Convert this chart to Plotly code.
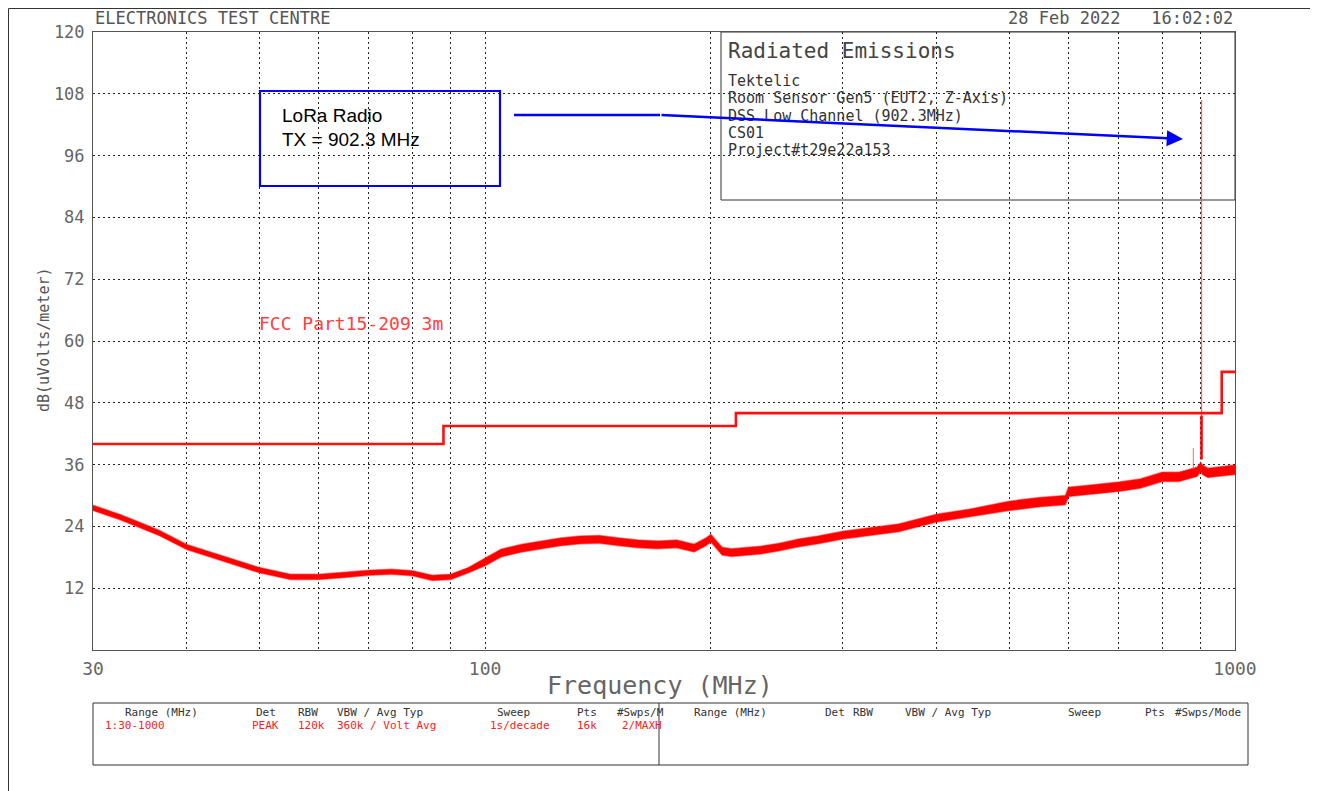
import numpy as np
import plotly.graph_objects as go

freq_mhz = [30, 32.6, 34.6, 36.8, 40, 44.3, 50, 55, 60, 65, 70, 75, 80, 85, 90, 95,
            100, 105, 112, 119, 126, 134, 142, 151, 160, 170, 180, 190, 197, 200, 203,
            207, 213, 233, 247, 262, 278, 300, 322, 356, 400, 442, 500, 549, 594, 600,
            638, 700, 747, 800, 842, 890, 900, 905, 920, 1000]
level_db = [27.6, 25.8, 24.3, 22.7, 20.0, 17.9, 15.5, 14.2, 14.2, 14.6, 15.0, 15.2, 14.9,
            14.0, 14.2, 15.5, 17.1, 18.8, 19.8, 20.4, 21.0, 21.4, 21.5, 21.0, 20.6, 20.4,
            20.6, 19.8, 21.0, 21.7, 20.6, 19.2, 18.9, 19.4, 20.0, 20.8, 21.4, 22.3, 22.9,
            23.7, 25.6, 26.6, 28.0, 28.7, 29.1, 30.7, 31.1, 31.7, 32.3, 33.6, 33.6, 34.6,
            35.5, 35.0, 34.4, 35.0]
band_db = [0.5] * 16 + [0.75] * 26 + [0.9] * 14

# Carrier spike at 902.3 MHz and a nearby spur
carrier_mhz = 902.3
carrier_base = 37.0
carrier_body = 45.5
carrier_peak = 106.8
spur_mhz = 880
spur_base = 35.0
spur_peak = 39.2

# FCC Part 15.209 limit at 3 m
limit_mhz = [30, 88, 216, 960, 1000]
limit_db = [40, 43.5, 46, 54, 54]

y_ticks = [12, 24, 36, 48, 60, 72, 84, 96, 108, 120]
x_ticks = [30, 100, 1000]
x_minor = [40, 50, 60, 70, 80, 90, 200, 300, 400, 500, 600, 700, 800, 900]

info_lines = ["Tektelic", "Room Sensor Gen5 (EUT2, Z-Axis)", "DSS Low Channel (902.3MHz)",
              "CS01", "Project#t29e22a153"]

hdr_left = [("Range (MHz)", 123), ("Det", 254), ("RBW", 296), ("VBW / Avg Typ", 335),
            ("Sweep", 495), ("Pts", 575), ("#Swps/M", 615)]
row_left = [("1:30-1000", 103), ("PEAK", 250), ("120k", 296), ("360k / Volt Avg", 335),
            ("1s/decade", 488), ("16k", 575), ("2/MAXH", 620)]
hdr_right = [("Range (MHz)", 692), ("Det", 823), ("RBW", 851), ("VBW / Avg Typ", 903),
             ("Sweep", 1066), ("Pts", 1143), ("#Swps/Mode", 1173)]

W, H = 1318, 791
L, R, T, B = 93, 1235, 32, 650   # plot area in screen pixels
OFF = 8                          # page body margin
MONO = "DejaVu Sans Mono"


def px(x, y):
    """screen pixel position -> paper coords"""
    return (x - L) / (R - L), (B - y) / (B - T)


lo = np.array(level_db) - np.array(band_db)
hi = np.array(level_db) + np.array(band_db)

fig = go.Figure()

fig.add_trace(go.Scatter(x=freq_mhz, y=lo, mode="lines",
                         line=dict(color="rgba(255,0,0,0.5)", width=1.5),
                         showlegend=False, hoverinfo="skip"))
fig.add_trace(go.Scatter(x=freq_mhz, y=hi, mode="lines", fill="tonexty",
                         fillcolor="#ff0000",
                         line=dict(color="rgba(255,0,0,0.5)", width=1.5),
                         showlegend=False))

fig.add_trace(go.Scatter(x=[spur_mhz, spur_mhz], y=[spur_base, spur_peak],
                         mode="lines", line=dict(color="rgba(255,60,60,0.6)", width=1.3),
                         showlegend=False))
fig.add_trace(go.Scatter(x=[carrier_mhz, carrier_mhz], y=[carrier_base, carrier_peak],
                         mode="lines", line=dict(color="rgba(255,60,60,0.8)", width=1.3),
                         showlegend=False))
fig.add_trace(go.Scatter(x=[carrier_mhz, carrier_mhz], y=[carrier_base, carrier_body],
                         mode="lines", line=dict(color="#ff0000", width=2.5),
                         showlegend=False))

fig.add_trace(go.Scatter(x=limit_mhz, y=limit_db, mode="lines", line_shape="hv",
                         line=dict(color="#ff1010", width=2.6), showlegend=False))

shapes = []
# outer page frame (left/top edges inside the drawable page)
fx0, fy1 = px(OFF + 0.5, OFF + 0.5)
fx1, fy0 = px(1340, 810)
shapes.append(dict(type="rect", xref="paper", yref="paper", x0=fx0, x1=fx1, y0=fy0, y1=fy1,
                   line=dict(color="#333", width=1), layer="below"))
# info box
bx0, by1 = px(721, 32)
bx1, by0 = px(1235, 200)
shapes.append(dict(type="rect", xref="paper", yref="paper", x0=bx0, x1=bx1, y0=by0, y1=by1,
                   line=dict(color="#333", width=1), fillcolor="white", layer="between"))
# LoRa call-out box
lx0, ly1 = px(260, 91)
lx1, ly0 = px(500, 186)
shapes.append(dict(type="rect", xref="paper", yref="paper", x0=lx0, x1=lx1, y0=ly0, y1=ly1,
                   line=dict(color="#0000ff", width=2.2), fillcolor="white", layer="between"))
# arrow first leg
a0x, a0y = px(514, 115)
a1x, a1y = px(660, 115)
shapes.append(dict(type="line", xref="paper", yref="paper", x0=a0x, y0=a0y, x1=a1x, y1=a1y,
                   line=dict(color="#0000ff", width=2.5), layer="above"))
# bottom settings table
tx0, ty1 = px(93, 703)
tx1, ty0 = px(1248, 765)
tdx, _ = px(659, 703)
shapes.append(dict(type="rect", xref="paper", yref="paper", x0=tx0, x1=tx1, y0=ty0, y1=ty1,
                   line=dict(color="#333", width=1)))
shapes.append(dict(type="line", xref="paper", yref="paper", x0=tdx, x1=tdx, y0=ty0, y1=ty1,
                   line=dict(color="#333", width=1)))

ann = []


def text(x, y, s, size, color="#333", font=MONO, anchor="left"):
    ax, ay = px(x, y)
    ann.append(dict(x=ax, y=ay, xref="paper", yref="paper", text=s, showarrow=False,
                    xanchor=anchor, yanchor="middle",
                    font=dict(family=font, size=size, color=color)))


text(93, 18, "ELECTRONICS TEST CENTRE", 17, "#555")
text(1235, 18, "28 Feb 2022   16:02:02", 17, "#555", anchor="right")
text(726, 51, "Radiated Emissions", 21, "#444")
for i, s in enumerate(info_lines):
    text(726, 81 + i * 17.3, s, 15, "#333")
text(280, 115, "LoRa Radio", 19, "black", "Liberation Sans")
text(280, 139, "TX = 902.3 MHz", 19, "black", "Liberation Sans")
text(257, 323, "FCC Part15-209 3m", 18, "#ff4040")
text(660, 685, "Frequency (MHz)", 25, "#666", anchor="center")

for s, x in hdr_left + hdr_right:
    text(x, 712, s, 11, "#333")
for s, x in row_left:
    text(x, 725, s, 11, "#ff2020")

hx, hy = px(1183, 139)
ann.append(dict(x=hx, y=hy, xref="paper", yref="paper", text="", showarrow=True,
                ax=660 - 1183, ay=115 - 139, arrowhead=2, arrowsize=1.3, arrowwidth=2.5,
                arrowcolor="#0000ff"))

ax_title_x, ax_title_y = px(33, 340)
ann.append(dict(x=ax_title_x, y=ax_title_y, xref="paper", yref="paper",
                text="dB(uVolts/meter)", showarrow=False, textangle=-90,
                font=dict(family=MONO, size=15, color="#555")))

grid = dict(showgrid=True, gridcolor="#222", gridwidth=1, griddash="2px,3px")

fig.update_layout(
    width=W, height=H,
    margin=dict(l=L - OFF, r=W + OFF - R, t=T - OFF, b=H + OFF - B),
    paper_bgcolor="white", plot_bgcolor="white",
    showlegend=False,
    shapes=shapes, annotations=ann,
    xaxis=dict(type="log", range=[np.log10(30), 3], tickmode="array",
               tickvals=x_ticks, ticktext=[str(v) for v in x_ticks],
               tickfont=dict(family=MONO, size=18, color="#666"),
               showline=True, linecolor="#555", mirror=True, zeroline=False,
               ticks="", ticklabelstandoff=2,
               minor=dict(tickmode="array", tickvals=x_minor, **grid),
               **grid),
    yaxis=dict(range=[0, 120], tickmode="array", tickvals=y_ticks,
               tickfont=dict(family=MONO, size=17, color="#666"),
               showline=True, linecolor="#555", mirror=True, zeroline=False,
               ticks="", ticklabelstandoff=4, **grid),
)

fig.write_html("out.html")
